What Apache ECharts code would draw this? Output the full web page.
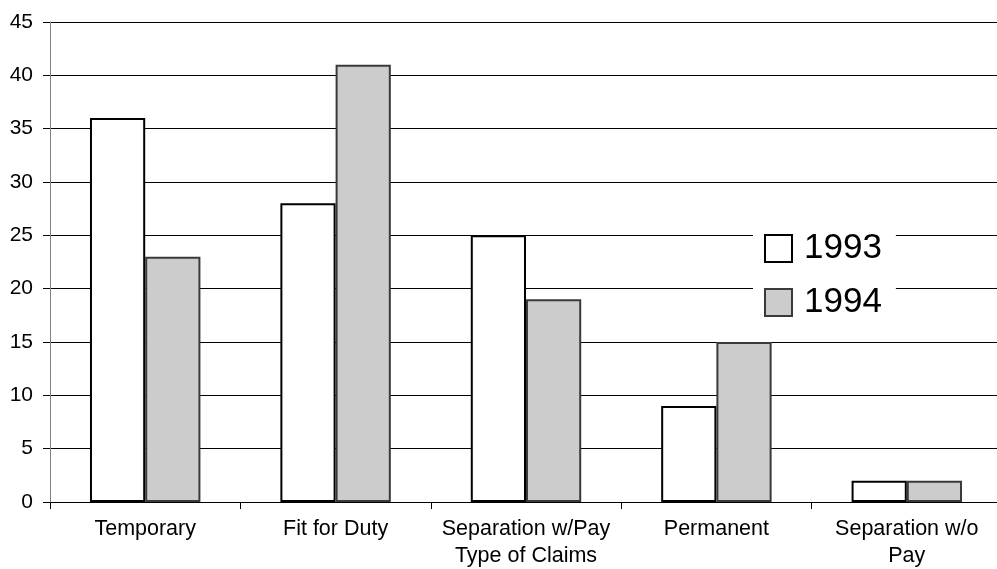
<!DOCTYPE html>
<html><head><meta charset="utf-8">
<script src="https://cdn.jsdelivr.net/npm/echarts@6/dist/echarts.min.js"></script>
<style>html,body{margin:0;padding:0;background:#fff}#c{width:997px;height:569px}</style>
</head><body><div id="c"></div>
<script>
const categories = ["Temporary", "Fit for Duty", "Separation w/Pay", "Permanent", "Separation w/o\nPay"];
const values1993 = [36, 28, 25, 9, 2];
const values1994 = [23, 41, 19, 15, 2];
const seriesNames = ["1993", "1994"];
const yTicks = {min: 0, max: 45, interval: 5};
const xAxisTitle = "Type of Claims";

const chart = echarts.init(document.getElementById('c'), null, {renderer: 'canvas'});
chart.setOption({
  animation: false,
  backgroundColor: '#fff',
  textStyle: {fontFamily: 'Liberation Sans, Arial, sans-serif'},
  grid: {left: 50, right: -5, top: 22, bottom: 67, containLabel: false, outerBoundsMode: 'none'},
  legend: {
    orient: 'vertical', left: 753, top: 226,
    itemWidth: 27, itemHeight: 27, itemGap: 19,
    padding: [5, 14, 5, 11],
    backgroundColor: '#fff',
    icon: 'rect',
    textStyle: {fontSize: 35, color: '#000', fontFamily: 'Liberation Sans, Arial, sans-serif', padding: [0, 0, 0, 7]},
    data: seriesNames
  },
  xAxis: {
    type: 'category', data: categories,
    name: xAxisTitle, nameLocation: 'middle', nameGap: 43, nameMoveOverlap: false,
    nameTextStyle: {fontSize: 21.5, color: '#000'},
    axisLine: {lineStyle: {color: '#000', width: 1}},
    axisTick: {show: true, length: 7, lineStyle: {color: '#000'}},
    axisLabel: {fontSize: 21.5, color: '#000', margin: 14, lineHeight: 27, interval: 0}
  },
  yAxis: {
    type: 'value', min: yTicks.min, max: yTicks.max, interval: yTicks.interval,
    axisLine: {show: true, lineStyle: {color: '#808080', width: 1}},
    axisTick: {show: true, length: 7, lineStyle: {color: '#000'}},
    axisLabel: {fontSize: 21, color: '#000', margin: 17},
    splitLine: {lineStyle: {color: '#000', width: 1}}
  },
  series: [
    {name: seriesNames[0], type: 'bar', data: values1993, barGap: '0%', barCategoryGap: '42%',
     itemStyle: {color: '#fff', borderColor: '#000', borderWidth: 2}},
    {name: seriesNames[1], type: 'bar', data: values1994,
     itemStyle: {color: '#cccccc', borderColor: '#3a3a3a', borderWidth: 2}}
  ]
});
</script></body></html>
